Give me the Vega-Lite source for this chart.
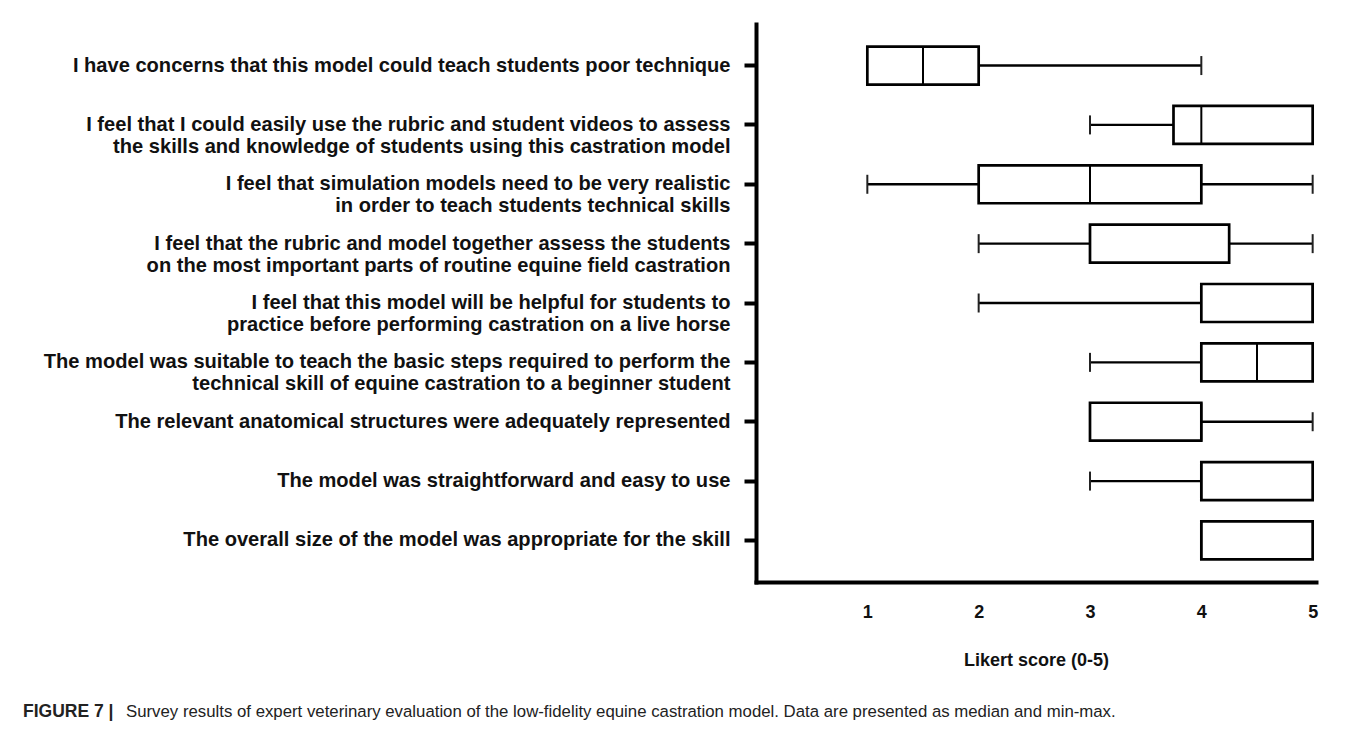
{
  "$schema": "https://vega.github.io/schema/vega-lite/v6.json",
  "autosize": "none",
  "padding": {"left": 756, "top": 24, "right": 601, "bottom": 715},
  "background": "white",
  "bounds": "flush",
  "title": {
    "text": "FIGURE 7 |",
    "orient": "bottom",
    "anchor": "start",
    "frame": "group",
    "dx": -733,
    "offset": -18,
    "font": "Liberation Sans",
    "fontSize": 17.5,
    "fontWeight": "bold",
    "color": "#222222"
  },
  "vconcat": [
    {
      "width": 560,
      "height": 558,
      "title": {
        "text": "Survey results of expert veterinary evaluation of the low-fidelity equine castration model. Data are presented as median and min-max.",
        "orient": "bottom",
        "anchor": "start",
        "frame": "group",
        "dx": -630,
        "offset": 35,
        "font": "Liberation Sans",
        "fontSize": 16.8,
        "fontWeight": "normal",
        "color": "#222222"
      },
      "data": {
        "values": [
          {"q": "I have concerns that this model could teach students poor technique", "min": 1, "q1": 1, "median": 1.5, "q3": 2, "max": 4},
          {"q": "I feel that I could easily use the rubric and student videos to assess |the skills and knowledge of students using this castration model", "min": 3, "q1": 3.75, "median": 4, "q3": 5, "max": 5},
          {"q": "I feel that simulation models need to be very realistic |in order to teach students technical skills", "min": 1, "q1": 2, "median": 3, "q3": 4, "max": 5},
          {"q": "I feel that the rubric and model together assess the students |on the most important parts of routine equine field castration", "min": 2, "q1": 3, "median": 3, "q3": 4.25, "max": 5},
          {"q": "I feel that this model will be helpful for students to |practice before performing castration on a live horse", "min": 2, "q1": 4, "median": 5, "q3": 5, "max": 5},
          {"q": "The model was suitable to teach the basic steps required to perform the |technical skill of equine castration to a beginner student", "min": 3, "q1": 4, "median": 4.5, "q3": 5, "max": 5},
          {"q": "The relevant anatomical structures were adequately represented", "min": 3, "q1": 3, "median": 4, "q3": 4, "max": 5},
          {"q": "The model was straightforward and easy to use", "min": 3, "q1": 4, "median": 4, "q3": 5, "max": 5},
          {"q": "The overall size of the model was appropriate for the skill", "min": 4, "q1": 4, "median": 4, "q3": 5, "max": 5}
        ]
      },
      "encoding": {
        "y": {
          "field": "q",
          "type": "nominal",
          "sort": null,
          "scale": {"paddingInner": 0, "paddingOuter": 0.2},
          "axis": {
            "title": null,
            "labelExpr": "split(datum.value, '|')",
            "labelFont": "Liberation Sans",
            "labelFontWeight": "bold",
            "labelFontSize": 20.1,
            "labelLineHeight": 22,
            "labelColor": "#111111",
            "labelLimit": 1000,
            "labelPadding": 14,
            "tickSize": 12,
            "tickWidth": 4,
            "tickColor": "#000000",
            "domainWidth": 4,
            "domainColor": "#000000",
            "domainCap": "square",
            "grid": false
          }
        }
      },
      "layer": [
        {
          "mark": {"type": "rule", "stroke": "#000000", "strokeWidth": 2.4},
          "encoding": {
            "x": {
              "field": "min",
              "type": "quantitative",
              "scale": {"domain": [0, 5.03], "nice": false, "zero": false},
              "axis": {
                "values": [1, 2, 3, 4, 5],
                "format": "d",
                "ticks": false,
                "tickSize": 0,
                "grid": false,
                "labelFont": "Liberation Sans",
                "labelFontWeight": "bold",
                "labelFontSize": 18,
                "labelColor": "#111111",
                "labelPadding": 21,
                "domainWidth": 4,
                "domainColor": "#000000",
                "domainCap": "square",
                "title": "Likert score (0-5)",
                "titleFont": "Liberation Sans",
                "titleFontWeight": "bold",
                "titleFontSize": 18,
                "titleColor": "#111111",
                "titlePadding": 30
              }
            },
            "x2": {"field": "q1"}
          }
        },
        {
          "mark": {"type": "rule", "stroke": "#000000", "strokeWidth": 2.4},
          "encoding": {
            "x": {"field": "q3", "type": "quantitative"},
            "x2": {"field": "max"}
          }
        },
        {
          "mark": {"type": "tick", "orient": "vertical", "size": 19, "thickness": 2, "color": "#222222", "opacity": 1},
          "encoding": {
            "x": {"field": "min", "type": "quantitative"}
          }
        },
        {
          "mark": {"type": "tick", "orient": "vertical", "size": 19, "thickness": 2, "color": "#222222", "opacity": 1},
          "encoding": {
            "x": {"field": "max", "type": "quantitative"}
          }
        },
        {
          "mark": {"type": "bar", "height": {"band": 0.64}, "fill": "#ffffff", "stroke": "#000000", "strokeWidth": 2.7},
          "encoding": {
            "x": {"field": "q1", "type": "quantitative"},
            "x2": {"field": "q3"}
          }
        },
        {
          "mark": {"type": "tick", "orient": "vertical", "size": 38, "thickness": 2, "color": "#000000", "opacity": 1},
          "encoding": {
            "x": {"field": "median", "type": "quantitative"}
          }
        }
      ]
    }
  ],
  "config": {"view": {"stroke": null}}
}
